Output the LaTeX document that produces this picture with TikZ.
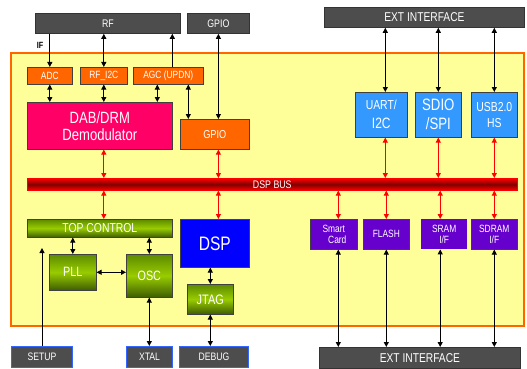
\documentclass[tikz,border=0pt]{standalone}
\usepackage{fontspec}
\setmainfont{Liberation Sans}[FakeStretch=0.8]
\usetikzlibrary{arrows.meta}

\definecolor{boxgrey}{HTML}{4D4D4D}
\definecolor{chipbg}{HTML}{FFFF99}
\definecolor{chipedge}{HTML}{FF6600}
\definecolor{orgbox}{HTML}{FF6600}
\definecolor{pinkbox}{HTML}{FF0066}
\definecolor{ltblue}{HTML}{3399FF}
\definecolor{dspblue}{HTML}{0000FF}
\definecolor{purpbox}{HTML}{6600CC}
\definecolor{olivetop}{HTML}{5C8A00}
\definecolor{olivemid}{HTML}{99CC00}
\definecolor{olivebot}{HTML}{3D5C00}
\definecolor{pinblue}{HTML}{3366FF}

\newcommand{\fsz}[2]{\fontsize{#1}{#2}\selectfont}

\tikzset{
  blk/.style={anchor=north west, inner sep=0pt, text=white, align=center},
  greybox/.style={blk, fill=boxgrey, draw=black!80, line width=0.8pt},
  pinbox/.style={blk, fill=boxgrey, draw=pinblue, line width=1pt},
  orgnode/.style={blk, fill=orgbox, draw=black!75, line width=0.6pt},
  bluenode/.style={blk, fill=ltblue, draw=black!75, line width=0.6pt},
  purpnode/.style={blk, fill=purpbox, draw=black!75, line width=0.6pt},
  greennode/.style={blk, top color=olivetop, bottom color=olivebot, middle color=olivemid, draw=black!75, line width=0.6pt},
  tip/.tip={Triangle[length=5pt,width=5pt]},
  dblarr/.style={tip-tip, line width=1pt},
  onearr/.style={-tip, line width=1pt},
  busarr/.style={tip-tip, line width=1pt, red},
}

\begin{document}
\begin{tikzpicture}[x=1pt, y=-1pt]
  \useasboundingbox (0,0) rectangle (527,369);

  % 芯片底框
  \filldraw[fill=chipbg, draw=chipedge, line width=1.5pt] (11,53) rectangle (524,326);

  % 外部接口
  \node[greybox, minimum width=145, minimum height=20, font=\fsz{11}{12}] (rf) at (35,13) {RF};
  \node[greybox, minimum width=62, minimum height=20, font=\fsz{11}{12}] (gpiotop) at (187,13) {GPIO};
  \node[greybox, minimum width=200, minimum height=20, font=\fsz{12.8}{13}] (extt) at (324,7) {EXT INTERFACE};
  \node[greybox, minimum width=201, minimum height=21, font=\fsz{12.8}{13}] (extb) at (319,347) {EXT INTERFACE};
  \node[pinbox, minimum width=61, minimum height=21, font=\fsz{10.8}{11}] (setup) at (11,346) {SETUP};
  \node[pinbox, minimum width=46, minimum height=21, font=\fsz{10.8}{11}] (xtal) at (126,346) {XTAL};
  \node[pinbox, minimum width=69, minimum height=21, font=\fsz{10.8}{11}] (debug) at (179,346) {DEBUG};
  \node[font=\bfseries\fsz{9}{10}] (iflbl) at (40,45) {IF};

  % 射频前端
  \node[orgnode, minimum width=45, minimum height=17, font=\fsz{10.5}{11}] (adc) at (27,67) {ADC};
  \node[orgnode, minimum width=47, minimum height=17, font=\fsz{10.5}{11}] (rfi2c) at (80,67) {RF\_I2C};
  \node[orgnode, minimum width=70, minimum height=17, font=\fsz{10.5}{11}] (agc) at (133,67) {AGC (UPDN)};
  \node[blk, fill=pinkbox, draw=black!75, line width=0.6pt, minimum width=145, minimum height=47,
        font=\fsz{16.3}{17}] (dab) at (27,102) {DAB/DRM\\Demodulator};
  \node[orgnode, minimum width=69, minimum height=30, font=\fsz{11.5}{12}] (gpio) at (180,119) {GPIO};

  % 主机接口
  \node[bluenode, minimum width=52, minimum height=45, font=\fsz{13}{19}] (uart) at (355,92) {UART/\\{\fsz{15}{19}I2C}};
  \node[bluenode, minimum width=46, minimum height=45, font=\fsz{16.5}{19}] (sdio) at (415,92) {SDIO\\/SPI};
  \node[bluenode, minimum width=46, minimum height=45, font=\fsz{13}{16}] (usb) at (471,92) {USB2.0\\HS};

  % DSP 总线
  \node[blk, top color=red, bottom color=red, middle color=red!50!black, draw=red, line width=0.6pt,
        minimum width=490, minimum height=12, font=\fsz{11}{11}] (bus) at (27,178) {DSP BUS};

  % 时钟与控制
  \node[greennode, minimum width=145, minimum height=18, font=\fsz{13}{13}] (topc) at (27,219) {TOP CONTROL};
  \node[greennode, minimum width=47, minimum height=36, font=\fsz{13.5}{14}] (pll) at (49,254) {PLL};
  \node[greennode, minimum width=46, minimum height=43, font=\fsz{13.5}{14}] (osc) at (126,254) {OSC};
  \node[blk, fill=dspblue, draw=black!75, line width=0.6pt, minimum width=69, minimum height=48,
        font=\fsz{19.5}{20}] (dsp) at (180,219) {DSP};
  \node[greennode, minimum width=46, minimum height=30, font=\fsz{13.7}{14}] (jtag) at (187,284) {JTAG};

  % 存储接口
  \node[purpnode, minimum width=47, minimum height=30, font=\fsz{10.5}{11}] (smart) at (310,219) {Smart\\\hspace{7pt}Card};
  \node[purpnode, minimum width=46, minimum height=30, font=\fsz{10.5}{11}] (flash) at (363,219) {FLASH};
  \node[blk, fill=purpbox, minimum width=46, minimum height=30, font=\fsz{10.5}{11}] (sram) at (421,219) {SRAM\\I/F};
  \node[purpnode, minimum width=46, minimum height=30, font=\fsz{10.5}{11}] (sdram) at (471,219) {SDRAM\\I/F};

  % 黑色连线
  \draw[onearr] (rf.south -| adc.north) -- (adc.north);
  \draw[dblarr] (rf.south -| rfi2c.north) -- (rfi2c.north);
  \draw[onearr] ([xshift=4]agc.north) -- ([xshift=4]agc.north |- rf.south);
  \draw[dblarr] (gpiotop.south) -- (gpiotop.south |- gpio.north);
  \draw[dblarr] (adc.south) -- (adc.south |- dab.north);
  \draw[dblarr] (rfi2c.south) -- (rfi2c.south |- dab.north);
  \draw[dblarr] ([xshift=-11]agc.south) -- ([xshift=-11]agc.south |- dab.north);
  \draw[dblarr] ([xshift=20]agc.south) -- ([xshift=20]agc.south |- gpio.north);
  \draw[dblarr] ([xshift=4]uart.north) -- ([xshift=4]uart.north |- extt.south);
  \draw[dblarr] (sdio.north) -- (sdio.north |- extt.south);
  \draw[dblarr] (usb.north) -- (usb.north |- extt.south);
  \draw[dblarr] (topc.south -| pll.north) -- (pll.north);
  \draw[dblarr] (topc.south -| osc.north) -- (osc.north);
  \draw[dblarr] (pll.east) -- (pll.east -| osc.west);
  \coordinate (setupend) at ([yshift=98]setup.north);
  \draw[onearr] (setup.north) -- (setupend);
  \draw[dblarr] (osc.south) -- (osc.south |- xtal.north);
  \draw[dblarr] (dsp.south -| jtag.north) -- (jtag.north);
  \draw[dblarr] (jtag.south) -- (jtag.south |- debug.north);
  \draw[dblarr] ([xshift=4.5]smart.south) -- ([xshift=4.5]smart.south |- extb.north);
  \draw[dblarr] (flash.south) -- (flash.south |- extb.north);
  \draw[dblarr] ([xshift=-4]sram.south) -- ([xshift=-4]sram.south |- extb.north);
  \draw[dblarr] (sdram.south) -- (sdram.south |- extb.north);

  % 红色总线连线
  \draw[busarr] (dab.south -| rfi2c.north) -- (bus.north -| rfi2c.north);
  \draw[busarr] (gpio.south -| gpiotop.south) -- (bus.north -| gpiotop.south);
  \draw[busarr] (bus.south -| rfi2c.north) -- (topc.north -| rfi2c.north);
  \draw[busarr] (bus.south -| gpiotop.south) -- (dsp.north -| gpiotop.south);
  \draw[busarr] ([xshift=4]uart.south) -- ([xshift=4]uart.south |- bus.north);
  \draw[busarr] (sdio.south) -- (sdio.south |- bus.north);
  \draw[busarr] (usb.south) -- (usb.south |- bus.north);
  \draw[busarr] (bus.south -| smart.north) ++(4.5,0) -- ([xshift=4.5]smart.north);
  \draw[busarr] (bus.south -| flash.north) -- (flash.north);
  \draw[busarr] (bus.south -| sram.north) ++(-4,0) -- ([xshift=-4]sram.north);
  \draw[busarr] (bus.south -| sdram.north) -- (sdram.north);
\end{tikzpicture}
\end{document}
